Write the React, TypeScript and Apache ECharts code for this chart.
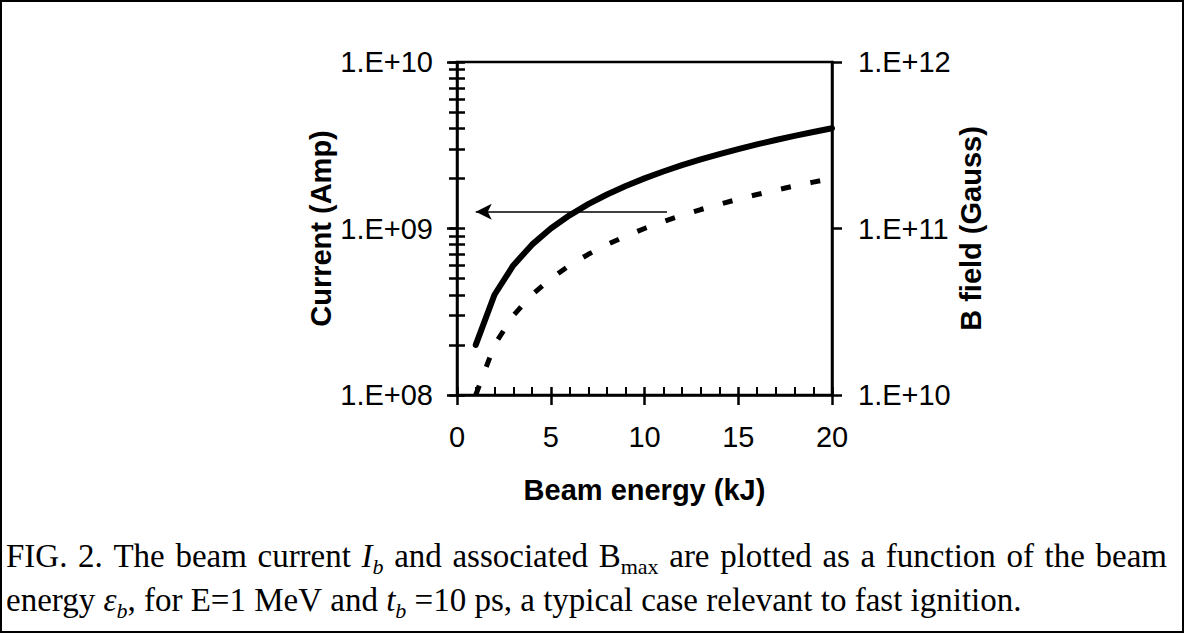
import React, { useEffect, useRef } from "react";
import * as echarts from "echarts";

// Beam energy (kJ) at each computed point
const energyKJ = [1, 2, 3, 4, 5, 6, 7, 8, 9, 10, 11, 12, 13, 14, 15, 16, 17, 18, 19, 20];
// Beam current I_b (A), left axis
const currentAmp = [
  2e8, 4e8, 6e8, 8e8, 1e9, 1.2e9, 1.4e9, 1.6e9, 1.8e9, 2e9,
  2.2e9, 2.4e9, 2.6e9, 2.8e9, 3e9, 3.2e9, 3.4e9, 3.6e9, 3.8e9, 4e9,
];
// Associated B_max (Gauss), right axis
const bFieldGauss = [
  1e10, 2e10, 3e10, 4e10, 5e10, 6e10, 7e10, 8e10, 9e10, 1e11,
  1.1e11, 1.2e11, 1.3e11, 1.4e11, 1.5e11, 1.6e11, 1.7e11, 1.8e11, 1.9e11, 2e11,
];

// Axis ranges and ticks
const currentMajor = [1e8, 1e9, 1e10];
const currentTicksAll = [
  1e8, 2e8, 3e8, 4e8, 5e8, 6e8, 7e8, 8e8, 9e8,
  1e9, 2e9, 3e9, 4e9, 5e9, 6e9, 7e9, 8e9, 9e9, 1e10,
];
const bMajor = [1e10, 1e11, 1e12];
const bTicksAll = [
  1e10, 2e10, 3e10, 4e10, 5e10, 6e10, 7e10, 8e10, 9e10,
  1e11, 2e11, 3e11, 4e11, 5e11, 6e11, 7e11, 8e11, 9e11, 1e12,
];

// Arrow pointing at the current axis
const arrowLevel = 1.26e9;
const arrowFromKJ = 11.2;
const arrowToKJ = 1.0;

// Caption words: each word is a list of pieces (italic / subscript)
type Piece = { t: string; it?: boolean; sub?: boolean };
const captionLine1: Piece[][] = [
  [{ t: "FIG." }], [{ t: "2." }], [{ t: "The" }], [{ t: "beam" }], [{ t: "current" }],
  [{ t: "I", it: true }, { t: "b", it: true, sub: true }],
  [{ t: "and" }], [{ t: "associated" }],
  [{ t: "B" }, { t: "max", sub: true }],
  [{ t: "are" }], [{ t: "plotted" }], [{ t: "as" }], [{ t: "a" }], [{ t: "function" }],
  [{ t: "of" }], [{ t: "the" }], [{ t: "beam" }],
];
const captionLine2: Piece[][] = [
  [{ t: "energy" }],
  [{ t: "\u03b5", it: true }, { t: "b", it: true, sub: true }, { t: "," }],
  [{ t: "for" }], [{ t: "E=1" }], [{ t: "MeV" }], [{ t: "and" }],
  [{ t: "t", it: true }, { t: "b", it: true, sub: true }],
  [{ t: "=10" }], [{ t: "ps," }], [{ t: "a" }], [{ t: "typical" }], [{ t: "case" }],
  [{ t: "relevant" }], [{ t: "to" }], [{ t: "fast" }], [{ t: "ignition." }],
];

const SANS = "Liberation Sans, Arial, Helvetica, sans-serif";
const SERIF = "Liberation Serif, Times New Roman, Times, serif";
const FS = 29;
const CAP = 33;
const SUB = 22;

const logLabel = (v: number) => {
  const e = Math.round(Math.log10(v));
  return "1.E+" + String(e).padStart(2, "0");
};

function buildCaption(): any[] {
  const canvas = document.createElement("canvas");
  const ctx = canvas.getContext("2d")!;
  const pieceWidth = (p: Piece) => {
    ctx.font = `${p.it ? "italic " : ""}${p.sub ? SUB : CAP}px ${SERIF}`;
    return ctx.measureText(p.t).width;
  };
  const wordWidth = (w: Piece[]) => w.reduce((s, p) => s + pieceWidth(p), 0);
  ctx.font = `${CAP}px ${SERIF}`;
  const space = ctx.measureText(" ").width;

  const left = 6;
  const line1Right = 1167;

  // bottom-aligned text box: shift from the wanted baseline
  const boxY = (baseline: number, size: number) => baseline + size * 0.1625;

  const els: any[] = [];
  const place = (w: Piece[], x: number, baseline: number) => {
    let cx = x;
    w.forEach((p) => {
      const size = p.sub ? SUB : CAP;
      els.push({
        type: "text",
        x: cx,
        y: boxY(p.sub ? baseline + 7 : baseline, size),
        style: {
          text: p.t,
          fontFamily: SERIF,
          fontSize: size,
          fontStyle: p.it ? "italic" : "normal",
          fill: "#000",
          verticalAlign: "bottom",
        },
      });
      cx += pieceWidth(p);
    });
  };

  // first line: fully justified
  const base1 = 567;
  const sum1 = captionLine1.reduce((s, w) => s + wordWidth(w), 0);
  const gap1 = Math.max(space, (line1Right - left - sum1) / (captionLine1.length - 1));
  let x = left;
  captionLine1.forEach((w) => {
    place(w, x, base1);
    x += wordWidth(w) + gap1;
  });

  // second line: ragged right
  const base2 = 611;
  x = left;
  captionLine2.forEach((w) => {
    place(w, x, base2);
    x += wordWidth(w) + space;
  });
  return els;
}

export default function App() {
  const ref = useRef<HTMLDivElement>(null);

  useEffect(() => {
    document.body.style.margin = "0";
    const chart = echarts.init(ref.current!, undefined, { renderer: "svg" });

    const gridBox = { left: 457, top: 62, width: 375, height: 333 };
    const black = "#000";
    const tickStyle = { color: black, width: 2.5 };

    const option: any = {
      animation: false,
      backgroundColor: "#fff",
      grid: [
        { ...gridBox, show: true, borderColor: black, borderWidth: 2.5, backgroundColor: "transparent" },
        { ...gridBox, show: false },
        { ...gridBox, show: false },
      ],
      xAxis: [
        {
          gridIndex: 0,
          type: "value",
          min: 0,
          max: 20,
          interval: 5,
          position: "bottom",
          axisLine: { show: true, lineStyle: { color: black, width: 2.5 } },
          axisTick: { show: true, inside: false, length: 10, lineStyle: tickStyle },
          axisLabel: { margin: 27, fontSize: FS, color: black, fontFamily: SANS },
          splitLine: { show: false },
          name: "Beam energy (kJ)",
          nameLocation: "middle",
          nameGap: 80,
          nameTextStyle: { fontSize: FS, fontWeight: "bold", color: black, fontFamily: SANS },
        },
        {
          gridIndex: 1,
          type: "value",
          min: 0,
          max: 20,
          interval: 5,
          position: "bottom",
          axisLine: { show: false },
          axisTick: { show: true, inside: true, length: 8, lineStyle: tickStyle },
          minorTick: { show: true, splitNumber: 5, length: 8, lineStyle: { color: black, width: 2 } },
          axisLabel: { show: false },
          splitLine: { show: false },
        },
        { gridIndex: 2, type: "value", min: 0, max: 20, show: false },
      ],
      yAxis: [
        {
          gridIndex: 0,
          type: "log",
          logBase: 10,
          min: 1e8,
          max: 1e10,
          position: "left",
          axisLine: { show: true, lineStyle: { color: black, width: 2.5 } },
          axisTick: { show: true, inside: false, length: 10, lineStyle: tickStyle, customValues: currentMajor },
          axisLabel: {
            margin: 24,
            fontSize: FS,
            color: black,
            fontFamily: SANS,
            customValues: currentMajor,
            formatter: logLabel,
          },
          splitLine: { show: false },
          minorTick: { show: false },
          name: "Current (Amp)",
          nameLocation: "middle",
          nameRotate: 90,
          nameGap: 122,
          nameTextStyle: { fontSize: FS, fontWeight: "bold", color: black, fontFamily: SANS },
        },
        {
          gridIndex: 0,
          type: "log",
          logBase: 10,
          min: 1e10,
          max: 1e12,
          position: "right",
          axisLine: { show: true, lineStyle: { color: black, width: 2.5 } },
          axisTick: { show: true, inside: false, length: 10, lineStyle: tickStyle, customValues: bMajor },
          axisLabel: {
            margin: 26,
            fontSize: FS,
            color: black,
            fontFamily: SANS,
            customValues: bMajor,
            formatter: logLabel,
          },
          splitLine: { show: false },
          minorTick: { show: false },
          name: "B field (Gauss)",
          nameLocation: "middle",
          nameRotate: 90,
          nameGap: 124,
          nameTextStyle: { fontSize: FS, fontWeight: "bold", color: black, fontFamily: SANS },
        },
        {
          gridIndex: 1,
          type: "log",
          logBase: 10,
          min: 1e8,
          max: 1e10,
          position: "left",
          axisLine: { show: false },
          axisTick: { show: true, inside: true, length: 8, lineStyle: tickStyle, customValues: currentTicksAll },
          axisLabel: { show: false },
          splitLine: { show: false },
        },
        {
          gridIndex: 2,
          type: "log",
          logBase: 10,
          min: 1e10,
          max: 1e12,
          position: "right",
          axisLine: { show: false },
          axisTick: { show: true, inside: true, length: 8, lineStyle: tickStyle, customValues: bTicksAll },
          axisLabel: { show: false },
          splitLine: { show: false },
        },
      ],
      series: [
        {
          name: "Current",
          type: "line",
          xAxisIndex: 0,
          yAxisIndex: 0,
          data: energyKJ.map((e, i) => [e, currentAmp[i]]),
          showSymbol: false,
          symbol: "none",
          lineStyle: { color: black, width: 6, cap: "round", join: "round" },
          z: 3,
          markLine: {
            silent: true,
            symbol: ["none", "arrow"],
            symbolSize: [12, 16],
            label: { show: false },
            lineStyle: { color: black, width: 1.5, type: "solid" },
            itemStyle: { color: black },
            data: [[{ coord: [arrowFromKJ, arrowLevel] }, { coord: [arrowToKJ, arrowLevel] }]],
          },
        },
        {
          name: "B field",
          type: "line",
          xAxisIndex: 0,
          yAxisIndex: 1,
          data: energyKJ.map((e, i) => [e, bFieldGauss[i]]),
          showSymbol: false,
          symbol: "none",
          lineStyle: { color: black, width: 5, type: [10, 20], cap: "butt" },
          z: 3,
        },
      ],
      graphic: [
        {
          type: "rect",
          shape: { x: 1, y: 1, width: 1182, height: 631 },
          style: { fill: "none", stroke: black, lineWidth: 2 },
          silent: true,
        },
        ...buildCaption(),
      ],
    };

    chart.setOption(option);
    return () => chart.dispose();
  }, []);

  return <div ref={ref} style={{ width: 1185, height: 634, background: "#fff" }} />;
}
